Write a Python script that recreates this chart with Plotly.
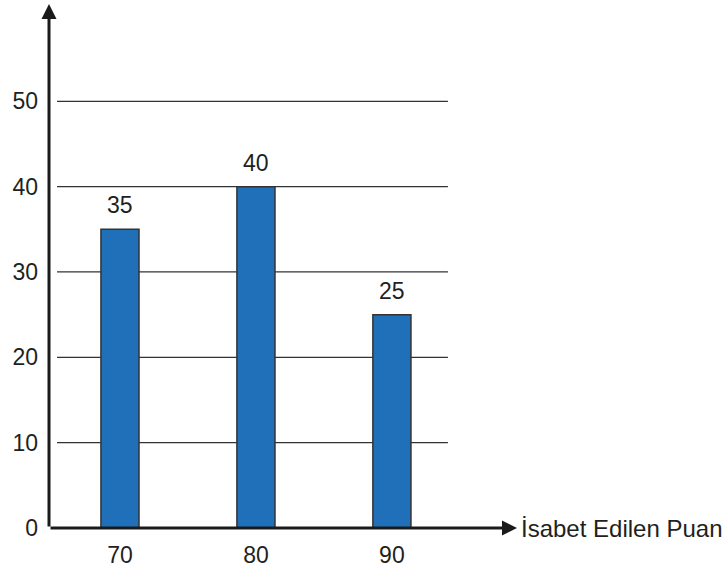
import plotly.graph_objects as go

categories = [70, 80, 90]
values = [35, 40, 25]
y_ticks = [0, 10, 20, 30, 40, 50]
x_title = "İsabet Edilen Puan"

FONT = "Liberation Sans, Arial, sans-serif"
TXT = "#231f20"
BAR = "#1f70b8"

X0, X1 = 64.78, 99.2
Y0, Y1 = 0, 61.4
GX0, GX1 = 65.37, 94.12

fig = go.Figure()
fig.add_trace(go.Bar(
    x=categories, y=values, width=2.8,
    marker=dict(color=BAR, line=dict(color="#333333", width=1.5)),
    hoverinfo="skip",
))

shapes = []
for t in y_ticks[1:]:
    shapes.append(dict(type="line", xref="x", yref="y", x0=GX0, x1=GX1, y0=t, y1=t,
                       line=dict(color="#333333", width=1.2), layer="below"))

annotations = []
# axes with arrowheads
annotations.append(dict(x=X1, y=0, ax=X0, ay=0, xref="x", yref="y", axref="x", ayref="y",
                        showarrow=True, arrowhead=2, arrowsize=1, arrowwidth=3,
                        arrowcolor="#1a1a1a", text=""))
annotations.append(dict(x=X0, y=Y1, ax=X0, ay=0, xref="x", yref="y", axref="x", ayref="y",
                        showarrow=True, arrowhead=2, arrowsize=1, arrowwidth=3,
                        arrowcolor="#1a1a1a", text=""))
# bar value labels
for c, v in zip(categories, values):
    annotations.append(dict(x=c, y=v, xref="x", yref="y", text=str(v), showarrow=False,
                            yanchor="bottom", yshift=9,
                            font=dict(family=FONT, size=23, color=TXT)))
# x-axis title
annotations.append(dict(x=1, y=0, xref="paper", yref="y", text=x_title, showarrow=False,
                        xanchor="left", yanchor="middle", xshift=2,
                        font=dict(family=FONT, size=24, color=TXT)))

fig.update_layout(
    width=726, height=571,
    margin=dict(l=49, r=209, t=4, b=43),
    paper_bgcolor="white", plot_bgcolor="white",
    showlegend=False,
    shapes=shapes, annotations=annotations,
    xaxis=dict(range=[X0, X1], tickvals=categories, ticktext=[str(c) for c in categories],
               showgrid=False, zeroline=False, showline=False, ticks="",
               ticklabelstandoff=11, automargin=False,
               tickfont=dict(family=FONT, size=23, color=TXT), fixedrange=True),
    yaxis=dict(range=[Y0, Y1], tickvals=y_ticks, ticktext=[str(t) for t in y_ticks],
               showgrid=False, zeroline=False, showline=False, ticks="",
               ticklabelstandoff=10, automargin=False,
               tickfont=dict(family=FONT, size=23, color=TXT), fixedrange=True),
)

fig.write_html("out.html", config={"displayModeBar": False},
               post_script="document.body.style.margin='0px';document.body.style.overflow='hidden';")
